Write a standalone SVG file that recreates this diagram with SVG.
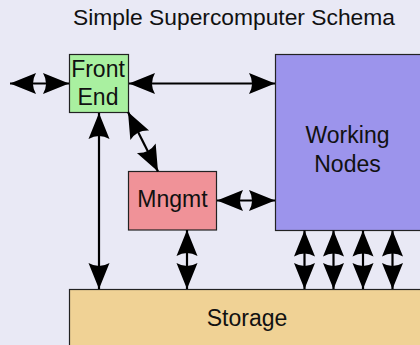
<svg xmlns="http://www.w3.org/2000/svg" width="420" height="345" viewBox="0 0 420 345">
<style>
text{font-family:"Liberation Sans",Arial,sans-serif;font-size:23px;fill:#111;text-anchor:middle}
.box{stroke:#222;stroke-width:1.2}
.c{stroke:#000;stroke-width:2.2;fill:none;marker-start:url(#ah);marker-end:url(#ah)}
</style>
<defs>
<marker id="ah" markerUnits="userSpaceOnUse" orient="auto-start-reverse" refX="0" refY="0" markerWidth="1" markerHeight="1" overflow="visible">
<path d="M0,0 L-26,-10.5 Q-20,0 -26,10.5 Z" fill="#000"/>
</marker>
</defs>
<rect width="420" height="345" fill="#e9e9f5"/>
<text x="234" y="25" style="font-size:22.8px">Simple Supercomputer Schema</text>
<g id="storage"><rect class="box" x="69.5" y="289.5" width="360" height="70" fill="#f0d295"/><text x="247" y="326">Storage</text></g>
<g id="working"><rect class="box" x="275.5" y="54.5" width="160" height="176" fill="#9c94ec"/><text x="347.5" y="142.5">Working</text><text x="347.5" y="171.5">Nodes</text></g>
<g id="frontend"><rect class="box" x="69.5" y="54.5" width="59" height="58" fill="#a9f0a0"/><text x="98" y="77">Front</text><text x="98" y="105">End</text></g>
<g id="mngmt"><rect class="box" x="128.5" y="171.5" width="88" height="58.5" fill="#f09298"/><text x="172.5" y="207">Mngmt</text></g>
<g id="connectors">
<line class="c" x1="10" y1="83.5" x2="69" y2="83.5"/>
<line class="c" x1="129" y1="83.5" x2="275" y2="83.5"/>
<line class="c" x1="99" y1="113" x2="99" y2="289"/>
<line class="c" x1="128" y1="112" x2="158" y2="171.5"/>
<line class="c" x1="217" y1="200.5" x2="275" y2="200.5"/>
<line class="c" x1="187" y1="230" x2="187" y2="289"/>
<line class="c" x1="304.5" y1="230.5" x2="304.5" y2="289"/>
<line class="c" x1="333.5" y1="230.5" x2="333.5" y2="289"/>
<line class="c" x1="363" y1="230.5" x2="363" y2="289"/>
<line class="c" x1="392.5" y1="230.5" x2="392.5" y2="289"/>
</g>
</svg>
